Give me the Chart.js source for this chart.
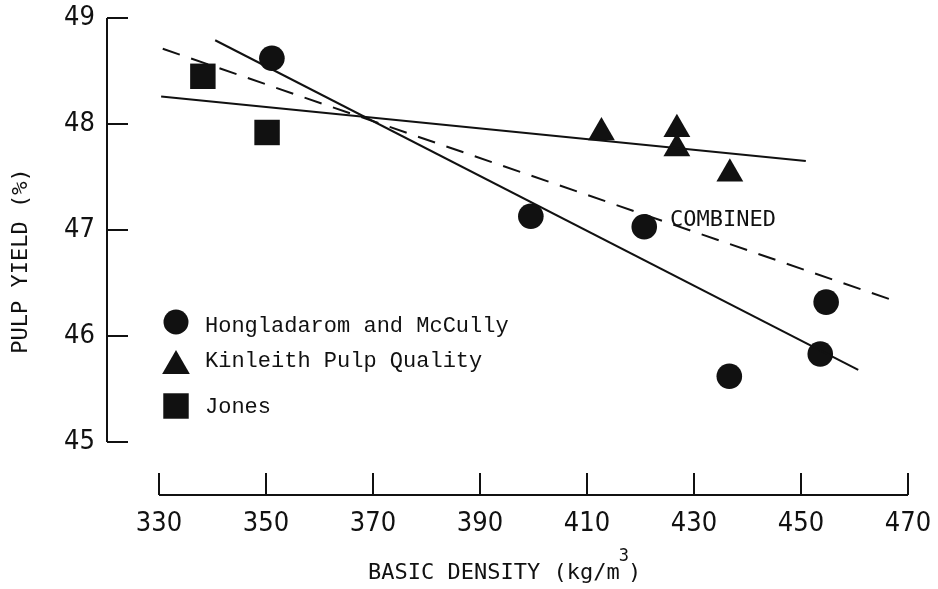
<!DOCTYPE html>
<html>
<head>
<meta charset="utf-8">
<script src="https://cdn.jsdelivr.net/npm/chart.js@4.4.1/dist/chart.umd.min.js"></script>
<style>
  html, body { margin: 0; padding: 0; background: #fff; }
  #wrap { position: relative; width: 938px; height: 589px; }
</style>
</head>
<body>
<div id="wrap"><canvas id="yieldChart"></canvas></div>
<script>
// pulp yield (%) against basic density (kg/m3)
var hongX = [351.1, 399.5, 420.7, 436.6, 453.6, 454.7];
var hongY = [48.62, 47.13, 47.03, 45.62, 45.83, 46.32];
var kinX = [412.7, 426.8, 426.8, 436.7];
var kinY = [47.92, 47.95, 47.77, 47.53];
var jonesX = [338.2, 350.2];
var jonesY = [48.45, 47.92];

// fitted lines (end points)
var hongFitX = [340.5, 460.7];
var hongFitY = [48.79, 45.68];
var kinFitX = [330.4, 450.9];
var kinFitY = [48.26, 47.65];
var combFitX = [330.7, 467.0];
var combFitY = [48.71, 46.34];

var xTicks = [330, 350, 370, 390, 410, 430, 450, 470];
var yTicks = [45, 46, 47, 48, 49];
var seriesNames = ['Hongladarom and McCully', 'Kinleith Pulp Quality', 'Jones'];
var combinedLabel = { text: 'COMBINED', x: 425.5, y: 47.09 };

var INK = '#111';
var MONO = "'DejaVu Sans Mono', monospace";
var TYPE = "'Liberation Mono', 'DejaVu Sans Mono', monospace";
var NARROW = "'Liberation Sans Narrow', 'DejaVu Sans Condensed', sans-serif";

function pts(xs, ys) {
  return xs.map(function (x, i) { return { x: x, y: ys[i] }; });
}

function drawMarker(ctx, style, x, y, r) {
  ctx.beginPath();
  if (style === 'circle') {
    ctx.arc(x, y, r, 0, Math.PI * 2);
  } else if (style === 'triangle') {
    ctx.moveTo(x, y - r);
    ctx.lineTo(x + Math.sin(Math.PI * 2 / 3) * r, y + r / 2);
    ctx.lineTo(x - Math.sin(Math.PI * 2 / 3) * r, y + r / 2);
    ctx.closePath();
  } else {
    var s = Math.SQRT1_2 * r;
    ctx.rect(x - s, y - s, 2 * s, 2 * s);
  }
  ctx.fill();
}

// keep the plot box fixed: no extra room for edge labels
function noEdgePadding(s) {
  s.paddingLeft = 0; s.paddingRight = 0;
  s.paddingTop = 0; s.paddingBottom = 0;
}

var frame = {
  id: 'frame',
  afterDraw: function (chart) {
    var ctx = chart.ctx;
    var xs = chart.scales.x, ys = chart.scales.y;
    ctx.save();
    ctx.strokeStyle = INK;
    ctx.fillStyle = INK;
    ctx.lineWidth = 2;

    // y axis, detached to the left, ticks pointing in
    var ax = 107;
    ctx.beginPath();
    ctx.moveTo(ax, ys.getPixelForValue(yTicks[yTicks.length - 1]));
    ctx.lineTo(ax, ys.getPixelForValue(yTicks[0]));
    yTicks.forEach(function (v) {
      var py = ys.getPixelForValue(v);
      ctx.moveTo(ax, py);
      ctx.lineTo(ax + 21, py);
    });
    ctx.stroke();

    // x axis, detached below, ticks pointing up
    var ay = 495;
    ctx.beginPath();
    ctx.moveTo(xs.getPixelForValue(xTicks[0]), ay);
    ctx.lineTo(xs.getPixelForValue(xTicks[xTicks.length - 1]), ay);
    xTicks.forEach(function (v) {
      var px = xs.getPixelForValue(v);
      ctx.moveTo(px, ay);
      ctx.lineTo(px, ay - 22);
    });
    ctx.stroke();

    // axis titles
    ctx.textBaseline = 'middle';
    ctx.textAlign = 'left';
    ctx.font = '22px ' + MONO;
    var main = 'BASIC DENSITY (kg/m';
    var tx = 368;
    ctx.fillText(main, tx, 573);
    tx += ctx.measureText(main).width;
    ctx.font = '17px ' + MONO;
    ctx.fillText('3', tx - 1, 557);
    tx += ctx.measureText('3').width - 2;
    ctx.font = '22px ' + MONO;
    ctx.fillText(')', tx, 573);

    ctx.save();
    ctx.translate(21, 261);
    ctx.rotate(-Math.PI / 2);
    ctx.textAlign = 'center';
    ctx.fillText('PULP YIELD (%)', 0, 0);
    ctx.restore();

    // label on the dashed line
    ctx.font = '22px ' + MONO;
    ctx.textAlign = 'left';
    ctx.fillText(combinedLabel.text, xs.getPixelForValue(combinedLabel.x), ys.getPixelForValue(combinedLabel.y));

    // key
    var styles = ['circle', 'triangle', 'rect'];
    var radii = [12.5, 16, 18];
    var rows = [322, 366, 406];
    ctx.font = '22px ' + TYPE;
    styles.forEach(function (s, i) {
      drawMarker(ctx, s, 176, rows[i], radii[i]);
      ctx.fillText(seriesNames[i], 205, rows[i] + (i === 0 ? 4 : i === 1 ? -5 : 1));
    });
    ctx.restore();
  }
};

new Chart(document.getElementById('yieldChart'), {
  type: 'scatter',
  data: {
    datasets: [
      { label: 'Hongladarom and McCully fit', data: pts(hongFitX, hongFitY), showLine: true,
        borderColor: INK, borderWidth: 2, pointRadius: 0 },
      { label: 'Kinleith Pulp Quality fit', data: pts(kinFitX, kinFitY), showLine: true,
        borderColor: INK, borderWidth: 2, pointRadius: 0 },
      { label: 'Combined', data: pts(combFitX, combFitY), showLine: true,
        borderColor: INK, borderWidth: 2, borderDash: [18, 12], pointRadius: 0 },
      { label: seriesNames[0], data: pts(hongX, hongY), pointStyle: 'circle', pointRadius: 12.8,
        backgroundColor: INK, borderWidth: 0, clip: false },
      { label: seriesNames[1], data: pts(kinX, kinY), pointStyle: 'triangle', pointRadius: 15.5,
        backgroundColor: INK, borderWidth: 0, clip: false },
      { label: seriesNames[2], data: pts(jonesX, jonesY), pointStyle: 'rect', pointRadius: 18,
        backgroundColor: INK, borderWidth: 0, clip: false }
    ]
  },
  options: {
    responsive: true,
    maintainAspectRatio: false,
    animation: false,
    events: [],
    layout: { padding: { left: 0, top: 13, right: 30, bottom: 0 } },
    plugins: { legend: { display: false }, tooltip: { enabled: false } },
    scales: {
      x: {
        type: 'linear', min: 330, max: 470,
        grid: { display: false, drawTicks: false },
        border: { display: false },
        afterBuildTicks: function (s) { s.ticks = xTicks.map(function (v) { return { value: v }; }); },
        afterFit: function (s) { s.height = 147; noEdgePadding(s); },
        ticks: { padding: 66, color: INK, font: { family: NARROW, size: 27 } }
      },
      y: {
        type: 'linear', min: 45, max: 49,
        grid: { display: false, drawTicks: false },
        border: { display: false },
        afterBuildTicks: function (s) { s.ticks = yTicks.map(function (v) { return { value: v }; }); },
        afterFit: function (s) { s.width = 159; noEdgePadding(s); },
        ticks: { padding: 64, color: INK, font: { family: NARROW, size: 27 } }
      }
    }
  },
  plugins: [frame]
});
</script>
</body>
</html>
